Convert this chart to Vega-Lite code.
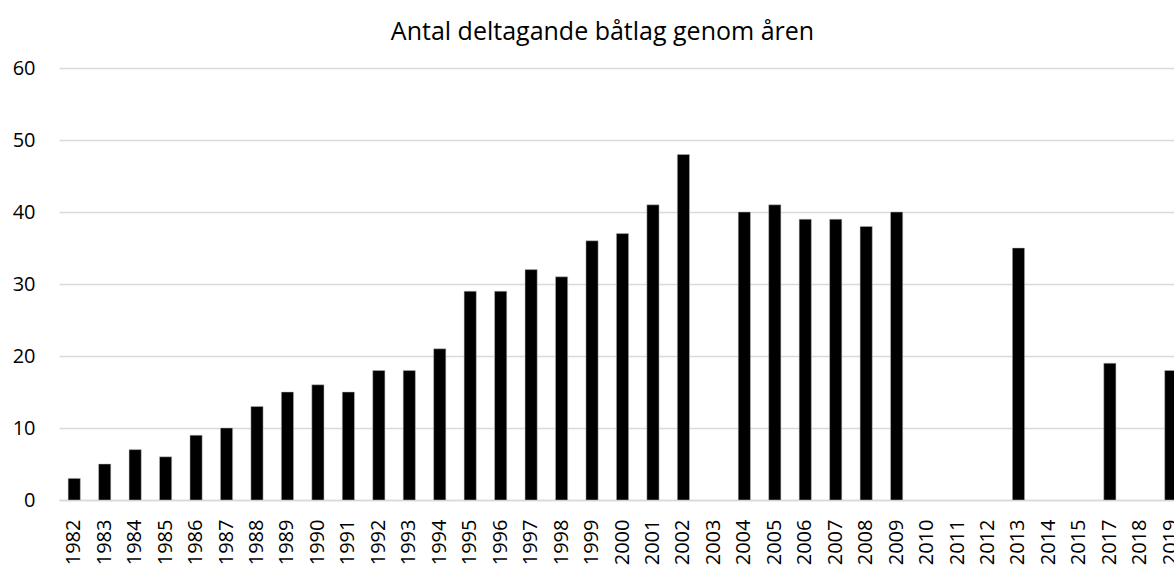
{
  "$schema": "https://vega.github.io/schema/vega-lite/v6.json",
  "autosize": {"type": "none"},
  "padding": {"left": 59, "top": 68, "right": 0, "bottom": 66},
  "width": 1127,
  "height": 432,
  "background": "white",
  "title": {
    "text": "Antal deltagande båtlag genom åren",
    "font": "Open Sans",
    "fontSize": 25,
    "fontWeight": "normal",
    "color": "#000000",
    "anchor": "middle",
    "dx": -20,
    "offset": 13
  },
  "config": {
    "view": {"stroke": null},
    "axis": {"labelFont": "Open Sans", "labelColor": "#000000", "titleFont": "Open Sans"}
  },
  "data": {
    "values": [
      {"year": "1982", "count": 3},
      {"year": "1983", "count": 5},
      {"year": "1984", "count": 7},
      {"year": "1985", "count": 6},
      {"year": "1986", "count": 9},
      {"year": "1987", "count": 10},
      {"year": "1988", "count": 13},
      {"year": "1989", "count": 15},
      {"year": "1990", "count": 16},
      {"year": "1991", "count": 15},
      {"year": "1992", "count": 18},
      {"year": "1993", "count": 18},
      {"year": "1994", "count": 21},
      {"year": "1995", "count": 29},
      {"year": "1996", "count": 29},
      {"year": "1997", "count": 32},
      {"year": "1998", "count": 31},
      {"year": "1999", "count": 36},
      {"year": "2000", "count": 37},
      {"year": "2001", "count": 41},
      {"year": "2002", "count": 48},
      {"year": "2003", "count": null},
      {"year": "2004", "count": 40},
      {"year": "2005", "count": 41},
      {"year": "2006", "count": 39},
      {"year": "2007", "count": 39},
      {"year": "2008", "count": 38},
      {"year": "2009", "count": 40},
      {"year": "2010", "count": null},
      {"year": "2011", "count": null},
      {"year": "2012", "count": null},
      {"year": "2013", "count": 35},
      {"year": "2014", "count": null},
      {"year": "2015", "count": null},
      {"year": "2017", "count": 19},
      {"year": "2018", "count": null},
      {"year": "2019", "count": 18}
    ]
  },
  "mark": {"type": "bar", "color": "#000000", "stroke": "#bfbfbf", "strokeWidth": 0.5},
  "encoding": {
    "x": {
      "field": "year",
      "type": "nominal",
      "sort": null,
      "scale": {
        "domain": ["1982","1983","1984","1985","1986","1987","1988","1989","1990","1991","1992","1993","1994","1995","1996","1997","1998","1999","2000","2001","2002","2003","2004","2005","2006","2007","2008","2009","2010","2011","2012","2013","2014","2015","2017","2018","2019"],
        "paddingInner": 0.6,
        "paddingOuter": 0.3
      },
      "axis": {
        "title": null,
        "labelAngle": -90,
        "labelFontSize": 20,
        "labelPadding": 19,
        "ticks": false,
        "domain": true,
        "domainColor": "#d9d9d9",
        "domainWidth": 1.5,
        "labelOverlap": false
      }
    },
    "y": {
      "field": "count",
      "type": "quantitative",
      "scale": {"domain": [0, 60]},
      "axis": {
        "title": null,
        "values": [0, 10, 20, 30, 40, 50, 60],
        "labelFontSize": 20,
        "labelPadding": 24,
        "ticks": false,
        "domain": false,
        "gridColor": "#d9d9d9",
        "gridWidth": 1.5
      }
    }
  }
}
